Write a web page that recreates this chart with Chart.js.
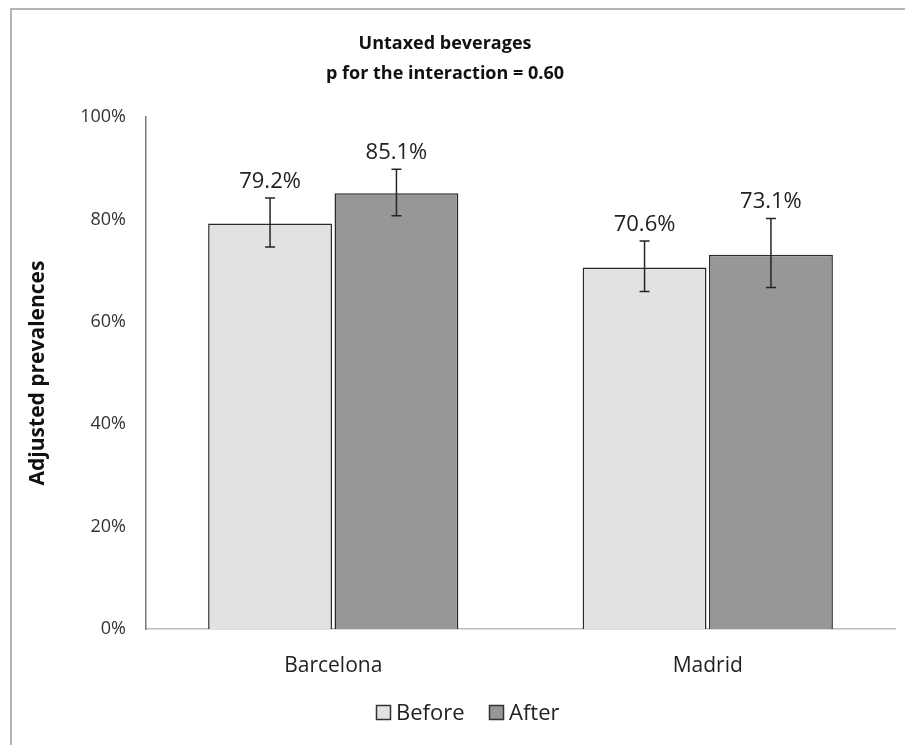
<!DOCTYPE html>
<html>
<head>
<meta charset="utf-8">
<script src="https://cdn.jsdelivr.net/npm/chart.js@4"></script>
<style>
  html, body { margin: 0; padding: 0; background: #fff; overflow: hidden; }
  #wrap { position: relative; width: 905px; height: 745px; }
  #frame { position: absolute; left: 10px; top: 8px; width: 910px; height: 760px; border: 2px solid #b4b4b4; box-sizing: border-box; }
  canvas { position: absolute; left: 0; top: 0; }
</style>
</head>
<body>
<div id="wrap">
  <div id="frame"></div>
  <canvas id="chart" width="905" height="745"></canvas>
</div>
<script>
const categories = ['Barcelona', 'Madrid'];
const seriesNames = ['Before', 'After'];
const beforeValues = [79.2, 70.6];
const afterValues = [85.1, 73.1];
const beforeLow = [74.6, 65.9];
const beforeHigh = [84.2, 75.8];
const afterLow = [80.7, 66.7];
const afterHigh = [89.8, 80.2];
const yTicks = [0, 20, 40, 60, 80, 100];
const titleLines = ['Untaxed beverages', 'p for the interaction = 0.60'];
const yTitle = 'Adjusted prevalences';

const FONT = '"Open Sans", "Noto Sans", sans-serif';

const extras = {
    id: 'extras',
    afterDatasetsDraw(chart) {
        const ctx = chart.ctx;
        const y = chart.scales.y;
        const errs = [[beforeLow, beforeHigh], [afterLow, afterHigh]];
        ctx.save();
        chart.data.datasets.forEach((ds, i) => {
            chart.getDatasetMeta(i).data.forEach((bar, j) => {
                const yl = y.getPixelForValue(errs[i][0][j]);
                const yh = y.getPixelForValue(errs[i][1][j]);
                ctx.strokeStyle = '#262626';
                ctx.lineWidth = 1.5;
                ctx.beginPath();
                ctx.moveTo(bar.x, yl); ctx.lineTo(bar.x, yh);
                ctx.moveTo(bar.x - 5, yl); ctx.lineTo(bar.x + 5, yl);
                ctx.moveTo(bar.x - 5, yh); ctx.lineTo(bar.x + 5, yh);
                ctx.stroke();
                ctx.fillStyle = '#222';
                ctx.font = '22px ' + FONT;
                ctx.textAlign = 'center';
                ctx.textBaseline = 'alphabetic';
                ctx.fillText(ds.data[j].toFixed(1) + '%', bar.x, yh - 10);
            });
        });
        // title
        ctx.fillStyle = '#111';
        ctx.font = 'bold 18px ' + FONT;
        ctx.textAlign = 'center';
        ctx.textBaseline = 'middle';
        ctx.fillText(titleLines[0], 445, 44);
        ctx.fillText(titleLines[1], 445, 74);
        // y axis title
        ctx.save();
        ctx.translate(38, 373);
        ctx.rotate(-Math.PI / 2);
        ctx.font = 'bold 21px ' + FONT;
        ctx.fillText(yTitle, 0, 0);
        ctx.restore();
        // legend
        ctx.font = '22px ' + FONT;
        ctx.textAlign = 'left';
        const items = [{ x: 376, ds: 0 }, { x: 489, ds: 1 }];
        items.forEach(it => {
            const d = chart.data.datasets[it.ds];
            ctx.fillStyle = d.backgroundColor;
            ctx.fillRect(it.x, 705, 14, 14);
            ctx.strokeStyle = '#333';
            ctx.lineWidth = 1.5;
            ctx.strokeRect(it.x + 0.5, 705.5, 14, 14);
            ctx.fillStyle = '#222';
            ctx.fillText(d.label, it.x + 20, 714);
        });
        ctx.restore();
    }
};

new Chart(document.getElementById('chart'), {
    type: 'bar',
    data: {
        labels: categories,
        datasets: [
            { label: seriesNames[0], data: beforeValues, backgroundColor: '#e2e2e2', borderColor: '#2a2a2a', borderWidth: 1.5 },
            { label: seriesNames[1], data: afterValues, backgroundColor: '#979797', borderColor: '#2a2a2a', borderWidth: 1.5 }
        ]
    },
    options: {
        responsive: false,
        animation: false,
        layout: { padding: { left: 0, right: 10, top: 117, bottom: 0 } },
        datasets: { bar: { categoryPercentage: 0.675, barPercentage: 0.98 } },
        plugins: { legend: { display: false }, title: { display: false }, tooltip: { enabled: false } },
        scales: {
            x: {
                grid: { display: false, drawTicks: false },
                border: { color: '#bdbdbd', width: 1.5 },
                ticks: { color: '#222', font: { family: FONT, size: 21 }, padding: 24 },
                afterFit(s) { s.height = 116; }
            },
            y: {
                min: 0, max: 100,
                afterBuildTicks(s) { s.ticks = yTicks.map(v => ({ value: v })); },
                grid: { display: false, drawTicks: false },
                border: { color: '#777', width: 1.5 },
                ticks: { color: '#333', font: { family: FONT, size: 18 }, padding: 20, callback: v => v + '%' },
                afterFit(s) { s.width = 146; }
            }
        }
    },
    plugins: [extras]
});
</script>
</body>
</html>
